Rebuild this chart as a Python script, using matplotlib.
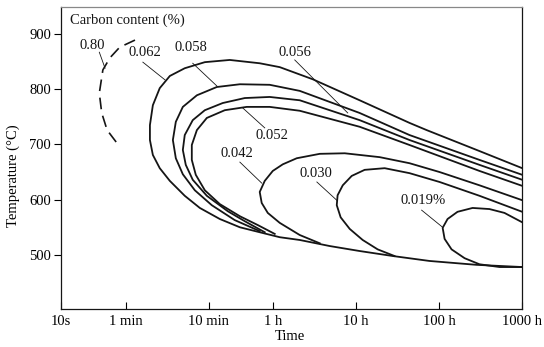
import matplotlib
matplotlib.use("Agg")
import matplotlib.pyplot as plt

# time in seconds, temperature in deg C
tick_times = [10, 60, 600, 3600, 36000, 360000, 3600000]
tick_labels = ["10s", "1 min", "10 min", "1 h", "10 h", "100 h", "1000 h"]
temp_ticks = [500, 600, 700, 800, 900]

# 0.062 % (outer curve, lower branch is the common envelope)
t_062 = [3.6e6, 1.10e6, 2.54e5, 1.58e5, 3.96e4, 1.08e4, 4320, 2480, 1080, 541, 310, 205,
         155, 128, 118, 118, 128, 155, 205, 310, 471, 819, 1430, 2480, 4320, 7520,
         1.73e4, 3.96e4, 9.89e4, 2.75e5, 1.01e6, 3.6e6]
T_062 = [657, 688, 726, 739, 780, 818, 840, 847, 853, 849, 838, 824,
         802, 771, 735, 708, 681, 657, 634, 607, 585, 565, 550, 541, 532, 527,
         516, 507, 498, 489, 482, 478]

t_058 = [3.6e6, 1.10e6, 1.58e5, 3.96e4, 7520, 3270, 1430, 754, 434, 294, 242, 223,
         242, 294, 410, 656, 1240, 2480]
T_058 = [645, 672, 717, 757, 797, 808, 809, 804, 789, 768, 741, 708,
         675, 646, 617, 590, 563, 543]

t_056 = [3.6e6, 1.10e6, 1.58e5, 3.96e4, 7520, 3270, 1637, 889, 541, 387, 310, 294,
         319, 387, 572, 1024, 1637, 2850]
T_056 = [636, 663, 708, 744, 780, 786, 784, 775, 762, 744, 717, 690,
         663, 636, 607, 579, 561, 541]

t_052 = [3.6e6, 1.10e6, 1.58e5, 3.96e4, 7520, 3270, 1730, 941, 572, 434, 377, 377,
         421, 541, 819, 1430, 2350, 3760]
T_052 = [625, 652, 699, 732, 761, 768, 768, 762, 748, 726, 699, 672,
         645, 617, 592, 570, 554, 538]

t_042 = [3.6e6, 1.10e6, 3.64e5, 1.58e5, 6.90e4, 2.62e4, 1.31e4, 6920, 4700, 3560, 2850,
         2480, 2620, 3100, 4320, 7520, 1.31e4]
T_042 = [599, 626, 650, 666, 677, 684, 683, 675, 664, 652, 634,
         614, 594, 576, 558, 536, 521]

t_030 = [3.6e6, 1.10e6, 3.64e5, 1.58e5, 7.93e4, 4.55e4, 3.18e4, 2.48e4, 2.15e4, 2.10e4,
         2.34e4, 3.01e4, 4.31e4, 6.53e4, 1.04e5]
T_030 = [578, 607, 632, 648, 657, 654, 643, 626, 608, 590,
         568, 547, 527, 510, 498]

t_019 = [3.6e6, 2.20e6, 1.45e6, 9.08e5, 5.98e5, 4.54e5, 3.96e5, 4.18e5, 5.07e5, 7.28e5,
         1.10e6, 1.92e6, 3.6e6]
T_019 = [559, 576, 583, 585, 578, 565, 549, 529, 510, 494,
         483, 478, 478]

# 0.80 % (dashed)
t_080 = [78, 51, 39, 32, 29, 31, 36, 47]
T_080 = [889, 876, 857, 835, 793, 757, 726, 703]

# labels: text, text position, leader start, leader end
labels = ["0.80", "0.062", "0.058", "0.056", "0.052", "0.042", "0.030", "0.019%"]
label_t = [24, 103, 366, 6550, 3460, 1310, 1.17e4, 2.33e5]
label_T = [880, 866, 875, 867, 717, 684, 648, 599]
lead_t0 = [29, 97, 387, 6550, 1550, 1430, 1.21e4, 2.21e5]
lead_T0 = [867, 849, 847, 853, 766, 668, 632, 581]
lead_t1 = [34, 179, 754, 2.85e4, 2850, 2620, 2.10e4, 3.96e5]
lead_T1 = [838, 817, 806, 757, 730, 630, 599, 550]

plt.rcParams['font.family'] = ['Liberation Serif', 'DejaVu Serif']

fig = plt.figure(figsize=(5.44, 3.47), dpi=100)
ax = fig.add_axes([0.112, 0.1095, 0.848, 0.8705])

ink = '#151515'
for t, T in [(t_062, T_062), (t_058, T_058), (t_056, T_056), (t_052, T_052),
             (t_042, T_042), (t_030, T_030), (t_019, T_019)]:
    ax.plot(t, T, color=ink, lw=1.3, solid_joinstyle='round')
ax.plot(t_080, T_080, color=ink, lw=1.2, dashes=(7, 4))

for i in range(len(labels)):
    ax.text(label_t[i], label_T[i], labels[i], ha='center', va='center',
            fontsize=10.5, color=ink)
    ax.plot([lead_t0[i], lead_t1[i]], [lead_T0[i], lead_T1[i]], color=ink, lw=0.6)

ax.text(0.02, 0.957, "Carbon content (%)", transform=ax.transAxes,
        ha='left', va='center', fontsize=10.5, color=ink)

ax.set_xscale('log')
ax.set_xlim(10, 3.6e6)
ax.set_ylim(402, 949)
ax.set_xticks(tick_times)
ax.set_xticklabels(tick_labels)
ax.minorticks_off()
ax.set_yticks(temp_ticks)
ax.tick_params(axis='x', direction='in', length=5, width=0.8, labelsize=10.5, pad=4)
ax.tick_params(axis='y', direction='out', length=5, width=0.8, labelsize=10.5, pad=2)

for s in ax.spines.values():
    s.set_linewidth(0.9)
    s.set_color(ink)
ax.spines['top'].set_color('#888888')

ax.set_xlabel("Time", fontsize=10.5, va='center')
ax.set_ylabel("Temperature (°C)", fontsize=10.5)
ax.xaxis.set_label_coords(0.497, -0.09)
ax.yaxis.set_label_coords(-0.089, 0.44)

fig.savefig("out.png", dpi=100)
